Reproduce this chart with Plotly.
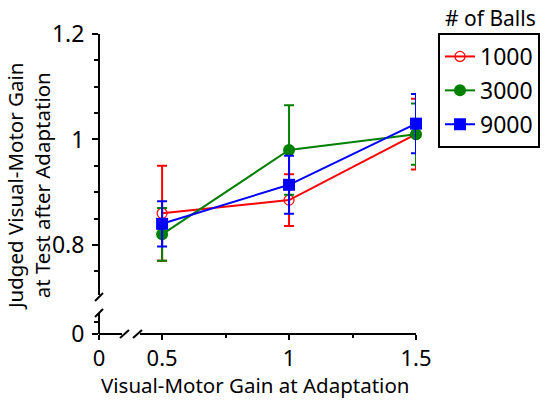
import plotly.graph_objects as go

W, H = 551, 401

gain = [0.5, 1.0, 1.5]
series_names = ["1000", "3000", "9000"]
y_1000 = [0.86, 0.885, 1.01]
err_1000 = [0.09, 0.049, 0.067]
y_3000 = [0.82, 0.98, 1.01]
err_3000 = [0.05, 0.085, 0.058]
y_9000 = [0.84, 0.914, 1.03]
err_9000 = [0.043, 0.055, 0.056]
colors = ["#ff0000", "#008000", "#0000ff"]
y_tick_vals = [0.8, 1.0, 1.2]
y_tick_text = ["0.8", "1", "1.2"]
x_tick_vals = [0.5, 1.0, 1.5]
x_tick_text = ["0.5", "1", "1.5"]

FONT = "Noto Sans"

def px(x):
    return x / W

def py(y):
    return 1 - y / H

fig = go.Figure()

markers = [
    dict(symbol="circle-open", size=10, color=colors[0], line=dict(width=1.2, color=colors[0])),
    dict(symbol="circle", size=12, color=colors[1]),
    dict(symbol="square", size=12, color=colors[2]),
]
ys = [y_1000, y_3000, y_9000]
errs = [err_1000, err_3000, err_9000]
for i in range(3):
    fig.add_trace(go.Scatter(
        x=gain, y=ys[i], name=series_names[i], mode="lines+markers",
        line=dict(color=colors[i], width=2),
        marker=markers[i],
        error_y=dict(type="data", array=errs[i], color=colors[i], thickness=2, width=5),
        cliponaxis=False, legendgroup=series_names[i],
    ))

# empty trace to realise the short axis segments near the origin
fig.add_trace(go.Scatter(x=[], y=[], xaxis="x2", yaxis="y2", showlegend=False))

tickfont = dict(family=FONT, size=23, color="black")
xtickfont = dict(family=FONT, size=22, color="black")

fig.update_layout(
    width=W, height=H,
    margin=dict(l=0, r=0, t=0, b=0, autoexpand=False),
    plot_bgcolor="white", paper_bgcolor="white",
    showlegend=True,
    xaxis=dict(
        domain=[px(140), px(416)], range=[0.413, 1.5], anchor="free", position=py(334),
        showline=True, linecolor="black", linewidth=2, showgrid=False, zeroline=False,
        tickmode="array", tickvals=x_tick_vals, ticktext=x_tick_text,
        ticks="outside", ticklen=5, tickwidth=1.5, tickcolor="black", tickfont=xtickfont,
        minor=dict(dtick=0.25, tick0=0, ticks="outside", ticklen=3, tickwidth=1.5, tickcolor="black"),
    ),
    yaxis=dict(
        domain=[py(295), py(34)], range=[0.705, 1.2], anchor="free", position=px(99),
        showline=True, linecolor="black", linewidth=2, showgrid=False, zeroline=False,
        tickmode="array", tickvals=y_tick_vals, ticktext=y_tick_text,
        ticks="outside", ticklen=6, tickwidth=1.5, tickcolor="black", tickfont=tickfont,
        ticklabelstandoff=3,
        minor=dict(dtick=0.05, tick0=0, ticks="outside", ticklen=4, tickwidth=1.5, tickcolor="black"),
    ),
    xaxis2=dict(
        domain=[px(99), px(122)], range=[0, 0.09], anchor="free", position=py(334),
        showline=True, linecolor="black", linewidth=2, showgrid=False, zeroline=False,
        tickmode="array", tickvals=[0], ticktext=["0"],
        ticks="outside", ticklen=5, tickwidth=1.5, tickcolor="black", tickfont=xtickfont,
    ),
    yaxis2=dict(
        domain=[py(334), py(313)], range=[0, 0.04], anchor="free", position=px(99),
        showline=True, linecolor="black", linewidth=2, showgrid=False, zeroline=False,
        tickmode="array", tickvals=[0], ticktext=["0"],
        ticks="outside", ticklen=6, tickwidth=1.5, tickcolor="black", tickfont=tickfont,
        ticklabelstandoff=3,
        minor=dict(tickvals=[0.023], ticks="outside", ticklen=4, tickwidth=1.5, tickcolor="black"),
    ),
    legend=dict(
        x=px(438), y=py(33), xanchor="left", yanchor="top",
        bordercolor="black", borderwidth=2, bgcolor="white",
        font=dict(family=FONT, size=23, color="black"),
        itemwidth=30, traceorder="grouped", tracegroupgap=1,
    ),
    annotations=[
        dict(text="Visual-Motor Gain at Adaptation", x=px(255), y=py(385), xref="paper", yref="paper",
             showarrow=False, font=dict(family=FONT, size=20.5, color="black"), xanchor="center", yanchor="middle"),
        dict(text="Judged Visual-Motor Gain<br>at Test after Adaptation", x=px(29), y=py(187),
             xref="paper", yref="paper", textangle=-90, showarrow=False,
             font=dict(family=FONT, size=20.5, color="black"), xanchor="center", yanchor="middle"),
        dict(text="# of Balls", x=px(490), y=py(18), xref="paper", yref="paper", showarrow=False,
             font=dict(family=FONT, size=21, color="black"), xanchor="center", yanchor="middle"),
    ],
)

# axis break marks
brk = dict(type="line", xref="paper", yref="paper", line=dict(color="black", width=2))
shapes = []
for (x0, y0, x1, y1) in [(120, 338, 129, 330), (133, 338, 142, 330), (95, 301, 103, 293), (95, 317, 103, 309)]:
    s = dict(brk)
    s.update(x0=px(x0), y0=py(y0), x1=px(x1), y1=py(y1))
    shapes.append(s)
fig.update_layout(shapes=shapes)

fig.write_html("out.html", config={"displayModeBar": False},
               post_script="document.body.style.margin='0';document.body.style.padding='0';")
